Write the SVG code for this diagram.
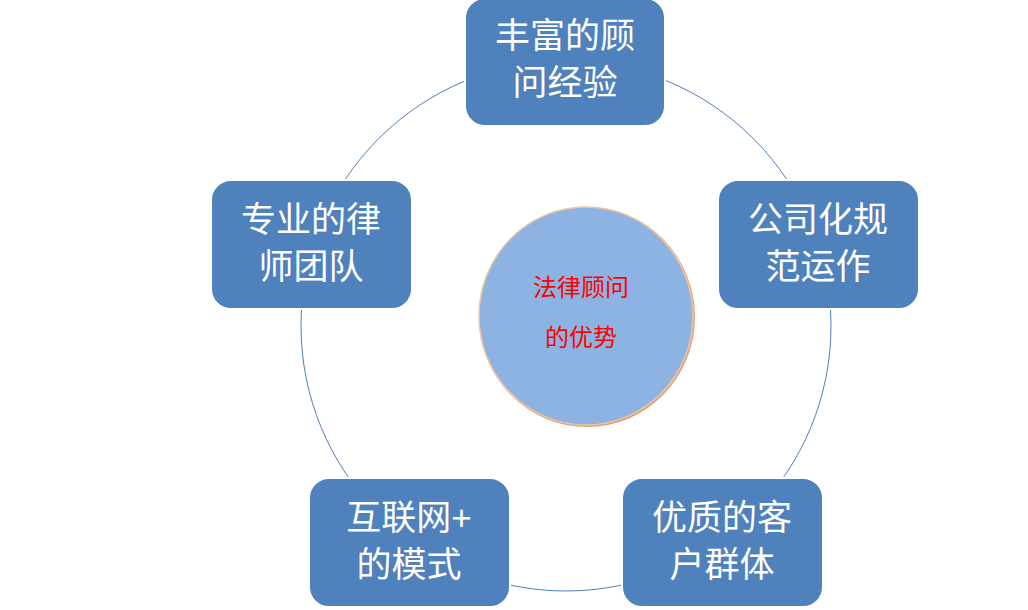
<svg xmlns="http://www.w3.org/2000/svg" width="1028" height="610" viewBox="0 0 1028 610">
<style>
.n{fill:#4F81BD;stroke:#fff;stroke-width:2}
.t{font-family:"Liberation Sans","Noto Sans CJK SC",sans-serif;font-size:35px;fill:#fff;text-anchor:middle}
.c{font-family:"Liberation Serif","Noto Sans CJK SC",serif;font-size:24px;fill:#f00;text-anchor:middle}
</style>
<rect width="1028" height="610" fill="#fff"/>
<g id="connectors"><circle cx="566" cy="326" r="265" fill="none" stroke="#4F81BD" stroke-width="1"/></g>
<g id="center"><ellipse cx="587" cy="317" rx="108" ry="110" fill="#D9A27A"/><ellipse cx="586" cy="316" rx="107" ry="109" fill="#8DB3E2" stroke="#F2C49E" stroke-width="1.5"/>
<text class="c" x="581" y="296">法律顾问</text><text class="c" x="581" y="346">的优势</text></g>
<g id="n1"><rect class="n" x="465" y="-2" width="200" height="128" rx="20"/><text class="t" x="565" y="48">丰富的顾</text><text class="t" x="565" y="95">问经验</text></g>
<g id="n2"><rect class="n" x="718" y="180" width="201" height="129" rx="20"/><text class="t" x="818" y="232">公司化规</text><text class="t" x="818" y="279">范运作</text></g>
<g id="n3"><rect class="n" x="622" y="478" width="201" height="129" rx="20"/><text class="t" x="722" y="530">优质的客</text><text class="t" x="722" y="577">户群体</text></g>
<g id="n4"><rect class="n" x="309" y="478" width="201" height="129" rx="20"/><text class="t" x="409" y="530">互联网+</text><text class="t" x="409" y="577">的模式</text></g>
<g id="n5"><rect class="n" x="211" y="180" width="201" height="129" rx="20"/><text class="t" x="311" y="232">专业的律</text><text class="t" x="311" y="279">师团队</text></g>
</svg>
